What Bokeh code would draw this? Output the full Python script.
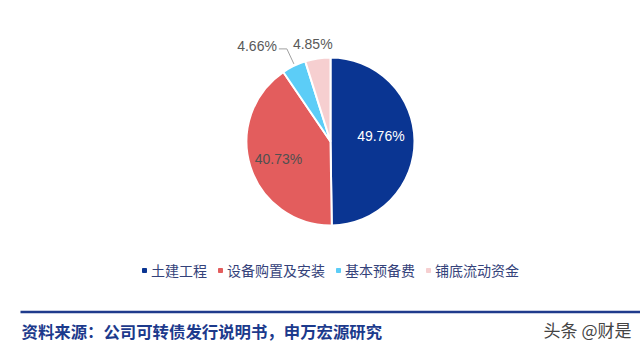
import math
from bokeh.plotting import figure
from bokeh.models import Range1d, Legend, LegendItem, ColumnDataSource
from bokeh.core.properties import value
from bokeh.embed import file_html
from bokeh.resources import INLINE

categories = ["土建工程", "设备购置及安装", "基本预备费", "铺底流动资金"]
shares = [49.76, 40.73, 4.66, 4.85]
colors = ["#0a3592", "#e35d5d", "#5ccdf7", "#f6cfd0"]
source_text = "资料来源：公司可转债发行说明书，申万宏源研究"
watermark = "头条 @财是"

W, H = 640, 350
p = figure(width=W, height=H, output_backend="svg", toolbar_location=None,
           x_range=Range1d(0, W), y_range=Range1d(H, 0), min_border=0,
           background_fill_color="white", border_fill_color="white")
p.axis.visible = False
p.grid.visible = False
p.outline_line_color = None

cx, cy, r = 330, 141, 84
total = sum(shares)
starts, ends, mids = [], [], []
cum = 0.0
for s in shares:
    a0 = math.pi / 2 - 2 * math.pi * (cum + s) / total
    a1 = math.pi / 2 - 2 * math.pi * cum / total
    starts.append(a0)
    ends.append(a1)
    mids.append((a0 + a1) / 2)
    cum += s

src = ColumnDataSource(dict(x=[cx] * 4, y=[cy] * 4, start=starts, end=ends,
                            color=colors, cat=categories))
p.wedge(x="x", y="y", radius=r, start_angle="start", end_angle="end",
        fill_color="color", line_color="white", line_width=2, source=src)

def pt(a, rr):
    return cx + rr * math.cos(a), cy - rr * math.sin(a)

labels = [f"{v:.2f}%" for v in shares]
bx, by = pt(mids[0], 0.6 * r)
p.text(x=[bx], y=[by - 5], text=[labels[0]], text_color="white",
       text_font=value("Liberation Sans"), text_font_size="14px",
       text_align="center", text_baseline="middle")
rx, ry = pt(mids[1], 0.6 * r)
p.text(x=[rx - 4], y=[ry + 2], text=[labels[1]], text_color="#505050",
       text_font=value("Liberation Sans"), text_font_size="14px",
       text_align="center", text_baseline="middle")
ex, ey = pt(mids[2], r)
p.line(x=[ex, ex - 7, ex - 15], y=[ey - 2, ey - 17, ey - 17], line_color="#a0a0a0", line_width=1)
p.text(x=[ex - 17], y=[ey - 20], text=[labels[2]], text_color="#595959",
       text_font=value("Liberation Sans"), text_font_size="14px",
       text_align="right", text_baseline="middle")
px_, py_ = pt(mids[3], r)
p.text(x=[px_ - 5], y=[py_ - 14], text=[labels[3]], text_color="#595959",
       text_font=value("Liberation Sans"), text_font_size="14px",
       text_align="center", text_baseline="middle")

items = []
for i, c in enumerate(categories):
    rr = p.scatter(x=[-100], y=[-100], marker="square", size=5, color=colors[i])
    items.append(LegendItem(label=c, renderers=[rr]))
leg = Legend(items=items, orientation="horizontal", location=(139, 70),
             glyph_width=10, glyph_height=10, label_standoff=2, spacing=8,
             label_text_font="Noto Sans CJK SC", label_text_font_size="14px",
             label_text_color="#34427a", border_line_color=None,
             background_fill_alpha=0, padding=0, margin=0)
p.add_layout(leg, "center")

p.line(x=[20, W], y=[311.5, 311.5], line_color="#1f3b8c", line_width=2.5)
p.text(x=[21], y=[330], text=[source_text], text_color="#1c3a8c",
       text_font=value("Noto Sans CJK SC"), text_font_size="16.4px",
       text_font_style="bold", text_align="left", text_baseline="middle")
p.text(x=[631], y=[329], text=[watermark], text_color="#444444",
       text_font=value("Noto Sans CJK SC"), text_font_size="17px",
       text_align="right", text_baseline="middle")

open("out.html", "w").write(file_html(p, INLINE))
